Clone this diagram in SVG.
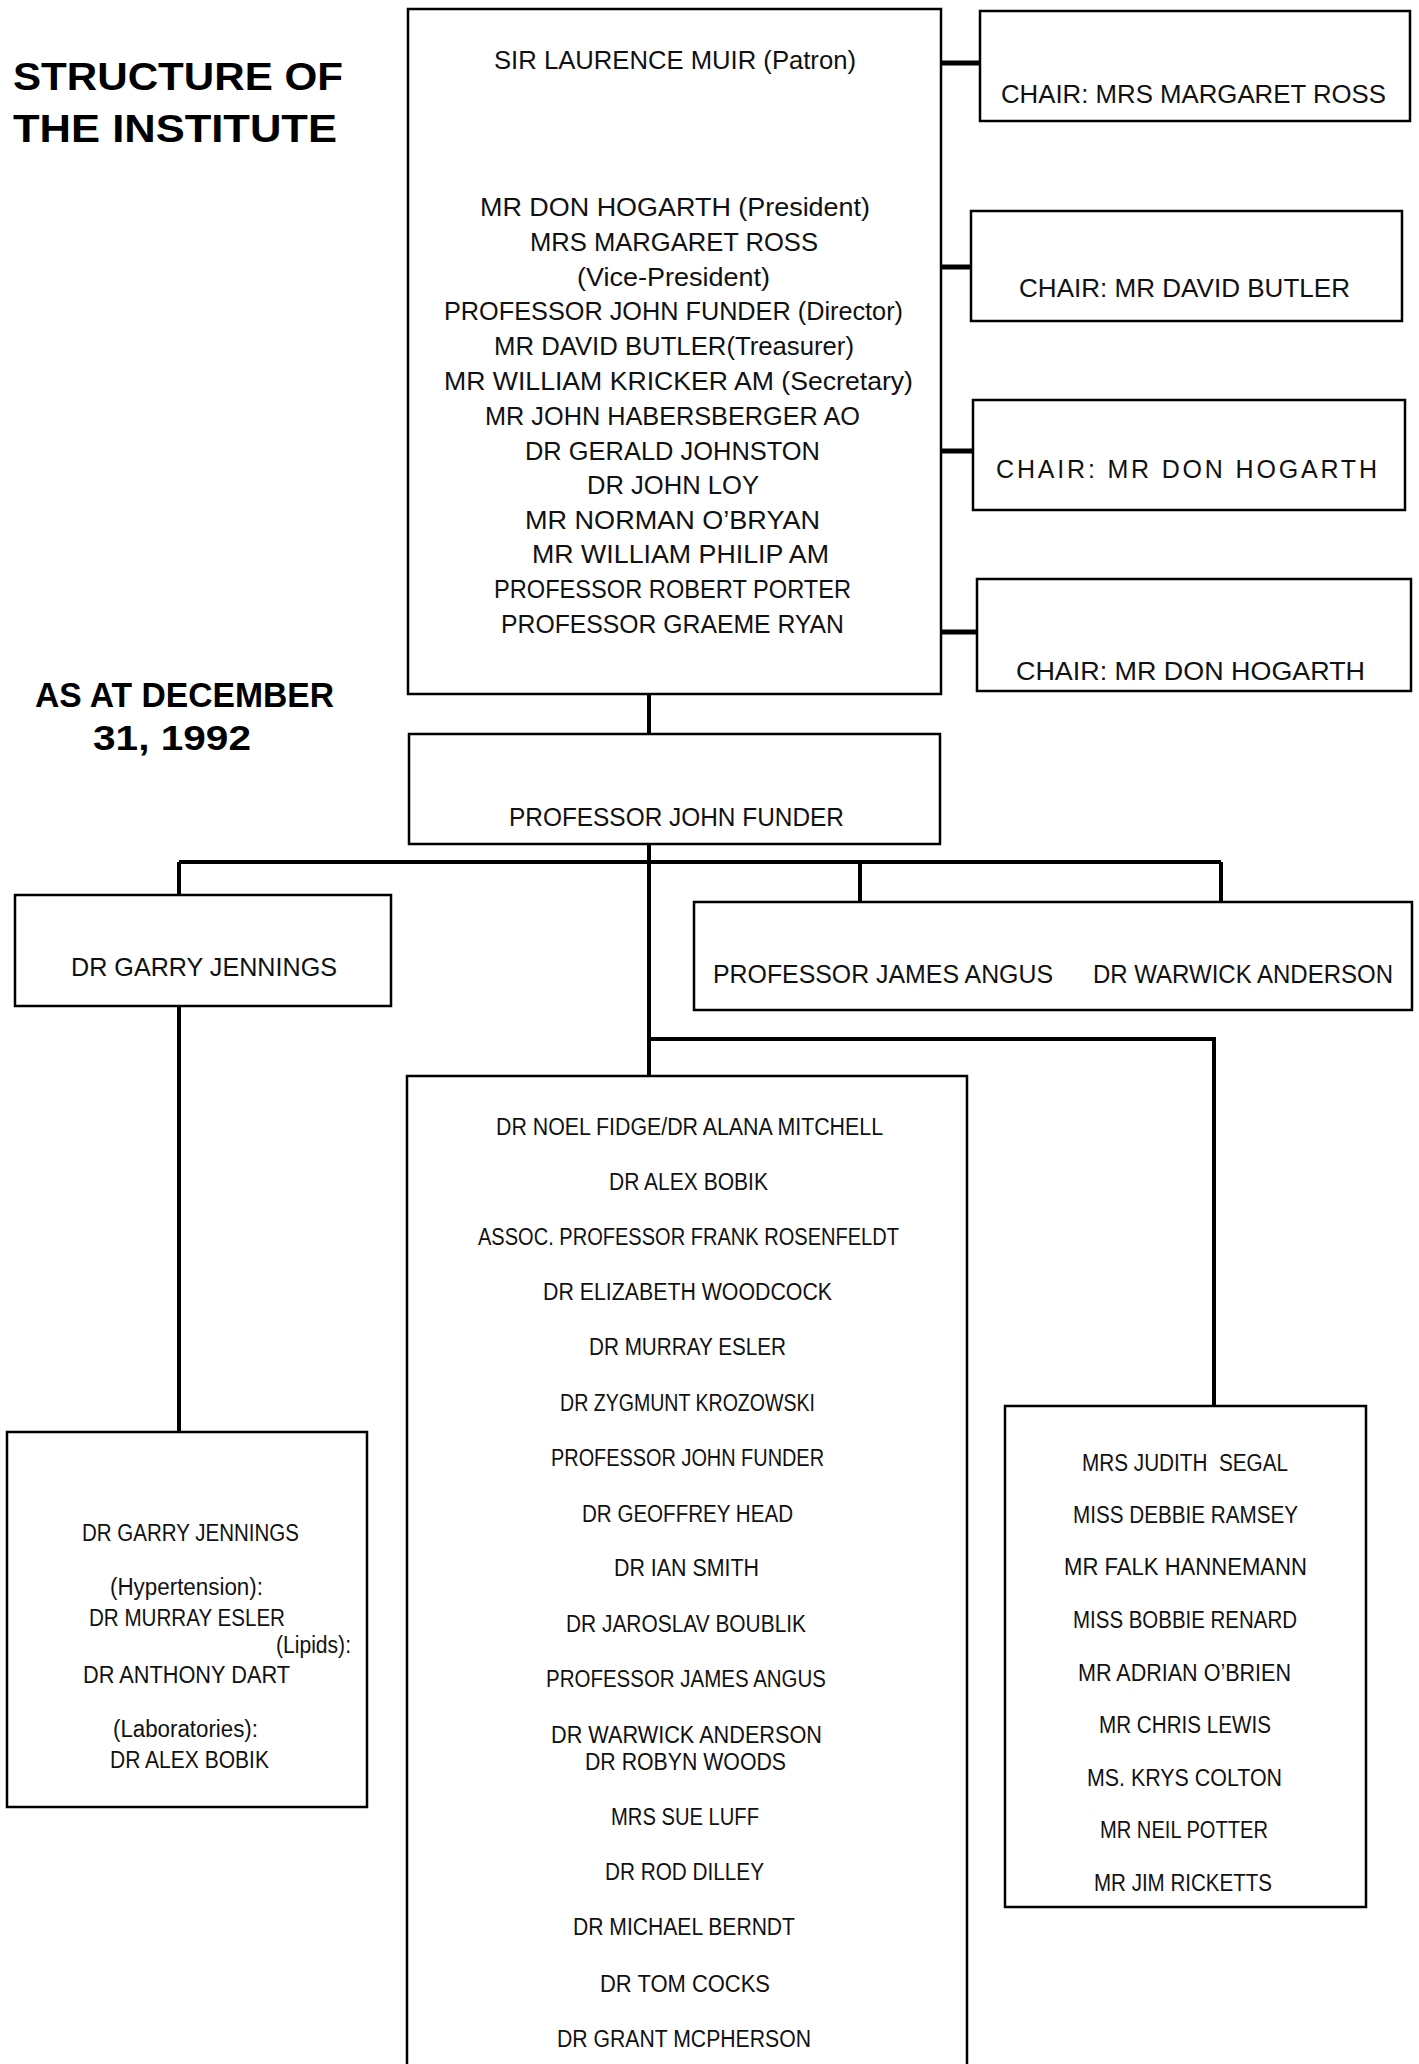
<svg xmlns="http://www.w3.org/2000/svg" width="1419" height="2064" viewBox="0 0 1419 2064">
<style>
.bg{fill:#fff}
.box{fill:#fff;stroke:#000;stroke-width:2.5}
.ln{fill:none;stroke:#000;stroke-width:4}
.lt{fill:none;stroke:#000;stroke-width:5}
text{font-family:"Liberation Sans",Arial,sans-serif;fill:#111}
.t{font-size:25px}
.s{font-size:23px}
.h{font-weight:bold;font-size:39px;fill:#000}
.h2{font-weight:bold;font-size:35px;fill:#000}
</style>
<rect class="bg" x="0" y="0" width="1419" height="2064"/>

<g id="titles">
<text class="h" x="13" y="90" textLength="330" lengthAdjust="spacingAndGlyphs">STRUCTURE OF</text>
<text class="h" x="13" y="142" textLength="324" lengthAdjust="spacingAndGlyphs">THE INSTITUTE</text>
<text class="h2" x="35" y="707" textLength="299" lengthAdjust="spacingAndGlyphs">AS AT DECEMBER</text>
<text class="h2" x="93" y="750" textLength="158" lengthAdjust="spacingAndGlyphs">31, 1992</text>
</g>

<g id="connectors">
<path class="lt" d="M940 63H980M940 267H971M940 451H973M940 632H977"/>
<path class="ln" d="M649 694V734"/>
<path class="ln" d="M649 844V1076"/>
<path class="ln" d="M179 862H1221"/>
<path class="ln" d="M179 862V895M179 1006V1432"/>
<path class="ln" d="M860 862V902M1221 862V902"/>
<path class="ln" d="M649 1039H1214V1406"/>
</g>

<g id="board">
<rect class="box" x="408" y="9" width="533" height="685"/>
<text class="t" x="494" y="69" textLength="362" lengthAdjust="spacingAndGlyphs">SIR LAURENCE MUIR (Patron)</text>
<text class="t" x="480" y="216" textLength="390" lengthAdjust="spacingAndGlyphs">MR DON HOGARTH (President)</text>
<text class="t" x="530" y="251" textLength="288" lengthAdjust="spacingAndGlyphs">MRS MARGARET ROSS</text>
<text class="t" x="577" y="286" textLength="193" lengthAdjust="spacingAndGlyphs">(Vice-President)</text>
<text class="t" x="444" y="320" textLength="459" lengthAdjust="spacingAndGlyphs">PROFESSOR JOHN FUNDER (Director)</text>
<text class="t" x="494" y="355" textLength="360" lengthAdjust="spacingAndGlyphs">MR DAVID BUTLER(Treasurer)</text>
<text class="t" x="444" y="390" textLength="469" lengthAdjust="spacingAndGlyphs">MR WILLIAM KRICKER AM (Secretary)</text>
<text class="t" x="485" y="425" textLength="375" lengthAdjust="spacingAndGlyphs">MR JOHN HABERSBERGER AO</text>
<text class="t" x="525" y="460" textLength="295" lengthAdjust="spacingAndGlyphs">DR GERALD JOHNSTON</text>
<text class="t" x="587" y="494" textLength="172" lengthAdjust="spacingAndGlyphs">DR JOHN LOY</text>
<text class="t" x="525" y="529" textLength="295" lengthAdjust="spacingAndGlyphs">MR NORMAN O’BRYAN</text>
<text class="t" x="532" y="563" textLength="297" lengthAdjust="spacingAndGlyphs">MR WILLIAM PHILIP AM</text>
<text class="t" x="494" y="598" textLength="357" lengthAdjust="spacingAndGlyphs">PROFESSOR ROBERT PORTER</text>
<text class="t" x="501" y="633" textLength="343" lengthAdjust="spacingAndGlyphs">PROFESSOR GRAEME RYAN</text>
</g>

<g id="chair1">
<rect class="box" x="980" y="11" width="430" height="110"/>
<text class="t" x="1001" y="103" textLength="385" lengthAdjust="spacingAndGlyphs">CHAIR: MRS MARGARET ROSS</text>
</g>
<g id="chair2">
<rect class="box" x="971" y="211" width="431" height="110"/>
<text class="t" x="1019" y="297" textLength="331" lengthAdjust="spacingAndGlyphs">CHAIR: MR DAVID BUTLER</text>
</g>
<g id="chair3">
<rect class="box" x="973" y="400" width="432" height="110"/>
<text class="t" x="996" y="478" textLength="381" lengthAdjust="spacing">CHAIR: MR DON HOGARTH</text>
</g>
<g id="chair4">
<rect class="box" x="977" y="579" width="434" height="112"/>
<text class="t" x="1016" y="680" textLength="349" lengthAdjust="spacingAndGlyphs">CHAIR: MR DON HOGARTH</text>
</g>

<g id="director">
<rect class="box" x="409" y="734" width="531" height="110"/>
<text class="t" x="509" y="826" textLength="335" lengthAdjust="spacingAndGlyphs">PROFESSOR JOHN FUNDER</text>
</g>

<g id="jennings">
<rect class="box" x="15" y="895" width="376" height="111"/>
<text class="t" x="71" y="976" textLength="266" lengthAdjust="spacingAndGlyphs">DR GARRY JENNINGS</text>
</g>

<g id="angus-anderson">
<rect class="box" x="694" y="902" width="718" height="108"/>
<text class="t" x="713" y="983" textLength="340" lengthAdjust="spacingAndGlyphs">PROFESSOR JAMES ANGUS</text>
<text class="t" x="1093" y="983" textLength="300" lengthAdjust="spacingAndGlyphs">DR WARWICK ANDERSON</text>
</g>

<g id="jennings-units">
<rect class="box" x="7" y="1432" width="360" height="375"/>
<text class="s" x="82" y="1541" textLength="217" lengthAdjust="spacingAndGlyphs">DR GARRY JENNINGS</text>
<text class="s" x="110" y="1595" textLength="153" lengthAdjust="spacingAndGlyphs">(Hypertension):</text>
<text class="s" x="89" y="1626" textLength="196" lengthAdjust="spacingAndGlyphs">DR MURRAY ESLER</text>
<text class="s" x="276" y="1653" textLength="75" lengthAdjust="spacingAndGlyphs">(Lipids):</text>
<text class="s" x="83" y="1683" textLength="207" lengthAdjust="spacingAndGlyphs">DR ANTHONY DART</text>
<text class="s" x="113" y="1737" textLength="145" lengthAdjust="spacingAndGlyphs">(Laboratories):</text>
<text class="s" x="110" y="1768" textLength="159" lengthAdjust="spacingAndGlyphs">DR ALEX BOBIK</text>
</g>

<g id="research-heads">
<path class="box" d="M407 2066V1076H967V2066"/>
<text class="s" x="496" y="1135" textLength="387" lengthAdjust="spacingAndGlyphs">DR NOEL FIDGE/DR ALANA MITCHELL</text>
<text class="s" x="609" y="1190" textLength="159" lengthAdjust="spacingAndGlyphs">DR ALEX BOBIK</text>
<text class="s" x="478" y="1245" textLength="421" lengthAdjust="spacingAndGlyphs">ASSOC. PROFESSOR FRANK ROSENFELDT</text>
<text class="s" x="543" y="1300" textLength="289" lengthAdjust="spacingAndGlyphs">DR ELIZABETH WOODCOCK</text>
<text class="s" x="589" y="1355" textLength="197" lengthAdjust="spacingAndGlyphs">DR MURRAY ESLER</text>
<text class="s" x="560" y="1411" textLength="255" lengthAdjust="spacingAndGlyphs">DR ZYGMUNT KROZOWSKI</text>
<text class="s" x="551" y="1466" textLength="273" lengthAdjust="spacingAndGlyphs">PROFESSOR JOHN FUNDER</text>
<text class="s" x="582" y="1522" textLength="211" lengthAdjust="spacingAndGlyphs">DR GEOFFREY HEAD</text>
<text class="s" x="614" y="1576" textLength="145" lengthAdjust="spacingAndGlyphs">DR IAN SMITH</text>
<text class="s" x="566" y="1632" textLength="240" lengthAdjust="spacingAndGlyphs">DR JAROSLAV BOUBLIK</text>
<text class="s" x="546" y="1687" textLength="280" lengthAdjust="spacingAndGlyphs">PROFESSOR JAMES ANGUS</text>
<text class="s" x="551" y="1743" textLength="271" lengthAdjust="spacingAndGlyphs">DR WARWICK ANDERSON</text>
<text class="s" x="585" y="1770" textLength="201" lengthAdjust="spacingAndGlyphs">DR ROBYN WOODS</text>
<text class="s" x="611" y="1825" textLength="148" lengthAdjust="spacingAndGlyphs">MRS SUE LUFF</text>
<text class="s" x="605" y="1880" textLength="159" lengthAdjust="spacingAndGlyphs">DR ROD DILLEY</text>
<text class="s" x="573" y="1935" textLength="222" lengthAdjust="spacingAndGlyphs">DR MICHAEL BERNDT</text>
<text class="s" x="600" y="1992" textLength="170" lengthAdjust="spacingAndGlyphs">DR TOM COCKS</text>
<text class="s" x="557" y="2047" textLength="254" lengthAdjust="spacingAndGlyphs">DR GRANT MCPHERSON</text>
</g>

<g id="administration">
<rect class="box" x="1005" y="1406" width="361" height="501"/>
<text class="s" x="1082" y="1471" textLength="206" lengthAdjust="spacingAndGlyphs" style="white-space:pre">MRS JUDITH  SEGAL</text>
<text class="s" x="1073" y="1523" textLength="225" lengthAdjust="spacingAndGlyphs">MISS DEBBIE RAMSEY</text>
<text class="s" x="1064" y="1575" textLength="243" lengthAdjust="spacingAndGlyphs">MR FALK HANNEMANN</text>
<text class="s" x="1073" y="1628" textLength="224" lengthAdjust="spacingAndGlyphs">MISS BOBBIE RENARD</text>
<text class="s" x="1078" y="1681" textLength="213" lengthAdjust="spacingAndGlyphs">MR ADRIAN O’BRIEN</text>
<text class="s" x="1099" y="1733" textLength="172" lengthAdjust="spacingAndGlyphs">MR CHRIS LEWIS</text>
<text class="s" x="1087" y="1786" textLength="195" lengthAdjust="spacingAndGlyphs">MS. KRYS COLTON</text>
<text class="s" x="1100" y="1838" textLength="168" lengthAdjust="spacingAndGlyphs">MR NEIL POTTER</text>
<text class="s" x="1094" y="1891" textLength="178" lengthAdjust="spacingAndGlyphs">MR JIM RICKETTS</text>
</g>
</svg>
